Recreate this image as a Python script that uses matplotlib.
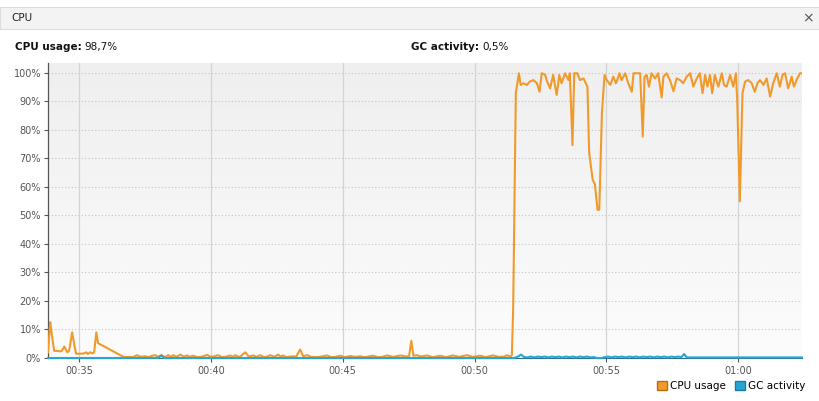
import matplotlib
matplotlib.use("Agg")
import matplotlib.pyplot as plt
import numpy as np
from matplotlib.patches import Rectangle, Patch
from matplotlib.ticker import FixedLocator, FuncFormatter
from matplotlib.colors import LinearSegmentedColormap

# ---- data (time in seconds since 00:00, values in %) ----
cpu_t = [2029, 2034, 2037, 2043, 2050, 2057, 2061, 2066, 2073, 2077, 2084, 2089, 2093,
         2102, 2111, 2116, 2120, 2125, 2130, 2134, 2139, 2143, 2202, 2214, 2222, 2232,
         2240, 2250, 2258, 2266, 2273, 2280, 2287, 2295, 2303, 2309, 2314, 2322, 2330,
         2338, 2346, 2352, 2359, 2370, 2380, 2391, 2400, 2408, 2416, 2425, 2435, 2444,
         2450, 2455, 2465, 2478, 2486, 2496, 2504, 2512, 2520, 2528, 2535, 2544, 2553,
         2558, 2564, 2572, 2585, 2594, 2603, 2610, 2619, 2628, 2640, 2652, 2664, 2674,
         2684, 2694, 2705, 2717, 2728, 2740, 2750, 2769, 2780, 2790, 2801, 2815, 2831,
         2845, 2851, 2856, 2861, 2869, 2878, 2892, 2905, 2922, 2935, 2951, 2965, 2983,
         2995, 3013, 3025, 3042, 3055, 3068, 3074, 3082, 3085, 3088, 3094, 3101, 3105,
         3111, 3119, 3126, 3134, 3142, 3148, 3153, 3161, 3164, 3172, 3179, 3187, 3193,
         3198, 3206, 3214, 3217, 3223, 3227, 3234, 3240, 3248, 3257, 3261, 3269, 3274,
         3280, 3284, 3290, 3296, 3301, 3309, 3316, 3322, 3330, 3335, 3343, 3350, 3358,
         3362, 3369, 3377, 3383, 3387, 3392, 3397, 3403, 3411, 3418, 3426, 3430, 3437,
         3445, 3453, 3460, 3468, 3475, 3483, 3491, 3498, 3506, 3513, 3519, 3525, 3530,
         3536, 3541, 3547, 3555, 3563, 3568, 3574, 3582, 3589, 3595, 3598, 3604, 3610,
         3616, 3623, 3631, 3638, 3644, 3650, 3658, 3665, 3673, 3680, 3688, 3695, 3701,
         3707, 3714, 3722, 3727, 3733, 3741, 3745]
cpu_v = [2.0, 12.6, 9.0, 2.5, 2.5, 2.3, 2.6, 4.0, 2.0, 2.5, 9.0, 4.5, 1.5,
         1.5, 1.6, 2.0, 1.4, 2.0, 1.6, 2.0, 9.0, 5.2, 0.3, 0.4, 0.3, 1.0,
         0.4, 0.6, 0.3, 0.8, 1.0, 0.4, 1.0, 0.3, 1.0, 0.4, 1.0, 0.4, 1.2,
         0.5, 0.9, 0.4, 0.8, 0.3, 0.5, 1.1, 0.4, 0.6, 1.0, 0.3, 0.5, 0.9,
         0.4, 1.0, 0.3, 2.0, 0.5, 0.9, 0.4, 1.0, 0.3, 0.5, 1.0, 0.4, 1.2,
         0.5, 0.9, 0.3, 0.6, 0.5, 3.0, 0.6, 1.0, 0.4, 0.3, 0.5, 0.9, 0.3,
         0.4, 0.8, 0.3, 0.7, 0.4, 0.6, 0.3, 0.8, 0.3, 0.4, 0.9, 0.4, 0.9,
         0.5, 0.7, 6.0, 0.8, 1.0, 0.5, 0.9, 0.3, 0.8, 0.3, 0.9, 0.4, 1.0,
         0.4, 0.8, 0.3, 0.9, 0.4, 0.5, 1.0, 0.5, 1.0, 17.5, 92.9, 99.9, 95.8,
         96.4, 95.8, 97.0, 97.5, 96.4, 93.4, 99.9, 99.3, 97.5, 94.6, 99.3, 92.3, 99.3,
         96.4, 99.9, 97.5, 99.9, 74.7, 99.9, 99.9, 97.5, 98.1, 95.2, 72.0, 62.5, 61.0,
         52.0, 52.0, 86.0, 99.3, 97.5, 95.8, 98.7, 96.4, 99.9, 97.5, 99.9, 96.4, 93.4,
         99.9, 99.9, 99.9, 77.7, 98.7, 99.3, 95.2, 99.9, 98.1, 99.9, 91.4, 98.7, 99.9,
         97.5, 93.6, 98.1, 97.5, 96.4, 98.7, 99.9, 95.2, 98.1, 99.9, 92.9, 99.3, 95.2,
         99.3, 92.9, 99.3, 95.2, 99.9, 95.8, 95.2, 99.3, 95.2, 99.9, 90.5, 55.0, 92.9,
         97.0, 97.5, 96.4, 93.4, 96.4, 97.5, 95.8, 98.1, 91.7, 96.4, 99.9, 95.2, 99.3,
         99.9, 94.6, 98.7, 95.2, 97.5, 99.9, 99.9]

gc_t = [2029, 2280, 2287, 2293, 3090, 3100, 3106, 3112, 3120, 3128, 3136, 3144, 3152,
        3160, 3168, 3176, 3184, 3192, 3200, 3208, 3216, 3224, 3232, 3240, 3248, 3256,
        3264, 3272, 3278, 3290, 3296, 3304, 3312, 3320, 3328, 3336, 3344, 3352, 3360,
        3368, 3376, 3384, 3392, 3400, 3408, 3416, 3424, 3432, 3440, 3448, 3456, 3464,
        3471, 3477, 3483, 3745]
gc_v = [0.0, 0.0, 0.9, 0.0, 0.0, 0.6, 1.2, 0.4, 0.2, 0.5, 0.2, 0.5, 0.3,
        0.5, 0.2, 0.5, 0.3, 0.5, 0.2, 0.5, 0.3, 0.5, 0.2, 0.5, 0.3, 0.5,
        0.2, 0.3, 0.0, 0.0, 0.3, 0.5, 0.2, 0.5, 0.3, 0.5, 0.2, 0.5, 0.3,
        0.5, 0.2, 0.5, 0.3, 0.5, 0.2, 0.5, 0.3, 0.5, 0.2, 0.5, 0.3, 0.5,
        0.3, 1.4, 0.2, 0.2]

x_ticks = [2100, 2400, 2700, 3000, 3300, 3600]
y_ticks = [0, 10, 20, 30, 40, 50, 60, 70, 80, 90, 100]

cpu_usage_label = "98,7%"
gc_activity_label = "0,5%"

CPU_COLOR = "#F19A2B"
GC_COLOR = "#27A6D6"

W, H = 820, 401
fig = plt.figure(figsize=(W / 100, H / 100), dpi=100)
fig.patch.set_facecolor("white")

# title bar
fig.patches.append(Rectangle((0, 1 - 29 / H), 1, 22 / H, transform=fig.transFigure,
                             facecolor="#f3f3f3", edgecolor="#dcdcdc", lw=0.8, zorder=0))
fig.text(11 / W, 1 - 18 / H, "CPU", fontsize=7.5, va="center", ha="left", color="#222222")
fig.text(808 / W, 1 - 18 / H, "×", fontsize=10, va="center", ha="center", color="#555555")

# header labels
def bold_value(x_px, y_px, bold, normal):
    t1 = fig.text(x_px / W, 1 - y_px / H, bold, fontsize=7.5, fontweight="bold",
                  va="center", ha="left", color="#111111")
    r = fig.canvas.get_renderer()
    bb = t1.get_window_extent(renderer=r)
    fig.text((bb.x1 + 3) / W, 1 - y_px / H, normal, fontsize=7.5, va="center",
             ha="left", color="#111111")

bold_value(15, 47, "CPU usage:", cpu_usage_label)
bold_value(411, 47, "GC activity:", gc_activity_label)

ax = fig.add_axes([48 / W, 43 / H, 754 / W, 295 / H])
xmin, xmax = cpu_t[0], cpu_t[-1] + 0.5
ymin, ymax = 0, 103.5
ax.set_xlim(xmin, xmax)
ax.set_ylim(ymin, ymax)

grad = np.linspace(0, 1, 256).reshape(-1, 1)
cmap = LinearSegmentedColormap.from_list("bg", ["#fcfcfc", "#efefef"])
ax.imshow(grad, extent=[xmin, xmax, ymin, ymax], origin="lower", aspect="auto",
          cmap=cmap, zorder=0)

for yt in y_ticks:
    ax.axhline(yt, color="#c4c4c4", lw=0.8, ls=(0, (1, 2)), zorder=1)
for xt in x_ticks:
    ax.axvline(xt, color="#d4d4d4", lw=0.9, zorder=1)

ax.plot(cpu_t, cpu_v, color=CPU_COLOR, lw=1.5, zorder=3, solid_joinstyle="round")
ax.plot(gc_t, gc_v, color=GC_COLOR, lw=1.5, zorder=4, clip_on=False,
        solid_joinstyle="round")

ax.xaxis.set_major_locator(FixedLocator(x_ticks))
ax.xaxis.set_major_formatter(FuncFormatter(lambda v, p: f"{int(v // 3600):02d}:{int(v % 3600 // 60):02d}"))
ax.yaxis.set_major_locator(FixedLocator(y_ticks))
ax.yaxis.set_major_formatter(FuncFormatter(lambda v, p: f"{int(v)}%"))
ax.tick_params(axis="both", labelsize=7, colors="#555555", length=3, width=0.8)
ax.tick_params(axis="x", pad=3)
ax.tick_params(axis="y", pad=2)

for s in ["top", "right"]:
    ax.spines[s].set_visible(False)
ax.spines["left"].set_color("#555555")
ax.spines["bottom"].set_color("#2f6f86")
ax.spines["left"].set_linewidth(0.9)

handles = [Patch(facecolor=CPU_COLOR, edgecolor="#b86e12", label="CPU usage"),
           Patch(facecolor=GC_COLOR, edgecolor="#1a7aa0", label="GC activity")]
fig.legend(handles=handles, loc="center right", bbox_to_anchor=(810 / W, 1 - 386 / H),
           ncol=2, frameon=False, fontsize=7.5, handlelength=0.9, handleheight=0.9,
           handletextpad=0.35, columnspacing=0.9, borderaxespad=0)

fig.savefig("out.png", dpi=100)
